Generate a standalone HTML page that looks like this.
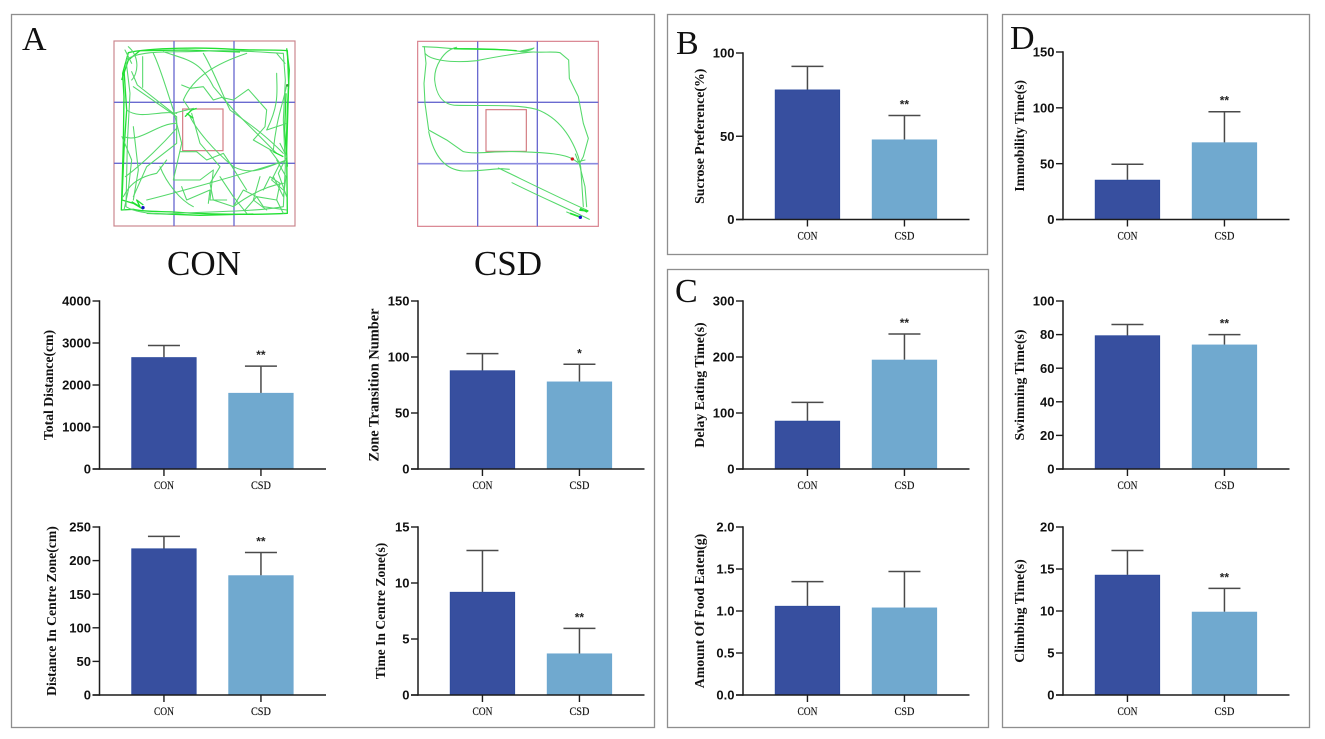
<!DOCTYPE html>
<html lang="en">
<head>
<meta charset="utf-8">
<title>Behavioural test results: CON vs CSD</title>
<style>
  html, body { margin: 0; padding: 0; background: #fff; }
  #figure { position: relative; width: 1325px; height: 739px; overflow: hidden; background: #fff; }
  #figure svg { position: absolute; left: 0; top: 0; filter: blur(0.3px); }
  .panel-box { fill: #fff; stroke: #8e8e8e; stroke-width: 1.3; }
  .panel-letter, .group-title { font-family: "Liberation Serif", serif; fill: #111; }
  .panel-letter { font-size: 34px; }
  .group-title { font-size: 35px; text-anchor: middle; }
  .tick-label { font-family: "Liberation Sans", sans-serif; font-weight: bold; font-size: 13px; fill: #111; text-anchor: end; }
  .cat-label { font-family: "Liberation Serif", serif; font-size: 11.5px; fill: #111; text-anchor: middle; stroke: #111; stroke-width: 0.15; }
  .y-title { font-family: "Liberation Serif", serif; font-weight: bold; fill: #111; text-anchor: middle; }
  .sig-label { font-family: "Liberation Sans", sans-serif; font-weight: bold; font-size: 12px; fill: #222; text-anchor: middle; }
  .track { fill: none; stroke: #55d96b; stroke-width: 3.2; stroke-linejoin: round; stroke-linecap: round; }
  .track-strong { fill: none; stroke: #22e033; stroke-width: 4; stroke-linejoin: round; }
</style>
</head>
<body>
<div id="figure">
<svg id="canvas" width="1325" height="739" viewBox="0 0 1325 739" xmlns="http://www.w3.org/2000/svg">
  <rect class="panel-box" x="11.5" y="14.5" width="643" height="713"/>
  <rect class="panel-box" x="667.5" y="14.5" width="320" height="240"/>
  <rect class="panel-box" x="667.5" y="269.5" width="321" height="458"/>
  <rect class="panel-box" x="1002.5" y="14.5" width="307" height="713"/>

  <text class="panel-letter" x="22" y="50">A</text>
  <text class="panel-letter" x="676" y="54">B</text>
  <text class="panel-letter" x="675" y="302">C</text>
  <text class="panel-letter" x="1010" y="49">D</text>

  <text class="group-title" x="204" y="275">CON</text>
  <text class="group-title" x="508" y="275">CSD</text>

  <!-- CON open-field track, drawn in 3x crop units -->
  <g transform="translate(0,10) scale(0.33333)">
    <g fill="none">
      <rect x="342" y="93" width="543" height="555" stroke="#c9848c" stroke-width="3.5"/>
      <path d="M522 93V648M702 93V648M342 277H885M342 460H885" stroke="#6a6ad0" stroke-width="4"/>
      <rect x="548" y="297" width="121" height="125" stroke="#d27a80" stroke-width="3.5"/>
    </g>
    <g>
      <path class="track-strong" d="M385 128C450 112 620 112 700 118C760 122 820 118 862 122L866 220L860 420L862 610C760 616 600 612 520 606C480 604 430 606 400 598L364 600L370 400L372 260L368 190L385 128Z"/>
      <path class="track-strong" d="M860 115L868 180L862 300L858 440M372 180L380 300L372 420L366 570L400 580L430 598"/>
      <path class="track-strong" d="M365 210L385 150L420 122L560 120L720 126M858 250L854 360L862 470M440 610L600 616L760 612"/>
      <path class="track" d="M378 150C420 118 520 128 600 124C700 118 800 128 850 130L856 210L850 330L856 470L850 590C760 606 620 604 500 612C440 612 400 604 378 590L382 400L390 250L378 150Z"/>
      <path class="track" d="M366 380L395 450L385 540L372 600M400 350L415 480L400 570M830 130L855 160M375 120L395 160"/>
      <path class="track" d="M428 232L428 140M395 185L412 225L520 310L580 295M400 230L530 320L530 400L440 470L400 560"/>
      <path class="track" d="M460 130C480 170 500 240 520 300L545 400L520 510L600 510L640 480L630 570L680 570M490 125C560 150 600 150 640 230L700 300L830 430"/>
      <path class="track" d="M610 130C640 180 670 260 690 300C730 330 780 360 850 430M740 130C650 160 580 200 550 270L570 300"/>
      <path class="track" d="M545 225L570 235L610 230L640 270L665 262L700 270L745 238L800 300L795 350L760 390L830 430"/>
      <path class="track" d="M830 190C830 240 840 280 800 360L860 340M860 225C850 280 830 320 820 420"/>
      <path class="track" d="M380 300C420 330 480 300 530 310M372 380C420 400 470 340 530 340M376 500C430 460 490 400 530 355"/>
      <path class="track" d="M575 310L600 400L660 470L630 520L640 570L700 590L730 540L770 560L830 570L850 610M590 425L620 450L670 430L690 460L740 540"/>
      <path class="track" d="M570 320C590 360 640 420 700 470C760 500 800 470 860 450M440 570C520 550 700 500 850 455"/>
      <path class="track" d="M480 470C500 520 540 570 580 590M545 530L560 570L630 540L625 580M660 500L700 560L740 610M790 540L810 500L840 520L830 570M820 500L850 560L858 500L830 450"/>
      <path class="track" d="M700 590C740 560 790 530 850 520M735 600L770 560L790 590L860 600M540 425L590 425"/>
      <path class="track" d="M385 110C420 140 415 190 395 210M370 560C390 520 420 500 470 490L500 450"/>
      <path class="track" d="M810 420L840 460L815 510L850 540M840 400L860 440L835 490L860 560M780 500L760 570L800 600"/>
      <path class="track-strong" d="M395 575L420 590L410 570L430 585M555 320L575 300L590 295M560 310L580 325M820 425L850 440"/>
    </g>
    <circle cx="429" cy="593" r="5" fill="#1414c8"/>
    <circle cx="862" cy="226" r="4" fill="#3a9a3a"/>
  </g>

  <!-- CSD open-field track, drawn in 3x crop units -->
  <g transform="translate(330,10) scale(0.33333)">
    <g fill="none">
      <rect x="263" y="94" width="542" height="555" stroke="#d8808c" stroke-width="3.5"/>
      <path d="M443 94V649M622 94V649M263 277H805" stroke="#6a6ad0" stroke-width="4"/>
      <path d="M263 461H805" stroke="#8a8ae0" stroke-width="5"/>
      <rect x="468" y="299" width="121" height="125" stroke="#d27a80" stroke-width="3.5"/>
    </g>
    <g>
      <path class="track" d="M278 110L320 112L370 116C440 114 520 118 570 124C590 124 605 120 612 114C590 122 530 126 610 126C640 128 670 124 690 128L716 150L718 205L745 260L760 340L775 385L760 440L748 462L765 530L770 590"/>
      <path class="track" d="M380 112C340 120 312 170 314 210C318 250 335 285 380 286C470 288 560 282 620 298C680 320 720 370 745 440L752 470L760 590"/>
      <path class="track" d="M283 110L288 160L282 220L285 280L296 360L350 390L400 425C440 435 500 420 590 426C640 428 700 430 730 448L750 462"/>
      <path class="track" d="M285 130C300 150 360 160 440 152C500 140 560 130 610 126"/>
      <path class="track" d="M296 365C310 430 340 480 400 483C450 484 490 476 515 476L538 478M505 474C560 500 680 560 770 600"/>
      <path class="track" d="M546 518C620 555 700 590 778 628M710 606L750 622M736 432L745 455L765 450"/>
      <path class="track-strong" d="M748 600L775 603M720 610L748 620M750 596L772 606" style="stroke-width:5"/>
      <path class="track-strong" d="M372 116C430 118 490 116 560 122" style="stroke-width:4"/>
    </g>
    <circle cx="727" cy="447" r="5" fill="#d01a1a"/>
    <circle cx="751" cy="622" r="5" fill="#1414d0"/>
  </g>

  <g id="charts"></g>
</svg>
</div>

<script>
const categories = ['CON', 'CSD'];
const chartIds = ['total-distance', 'zone-transition', 'distance-centre', 'time-centre', 'sucrose', 'delay-eating', 'food-eaten', 'immobility', 'swimming', 'climbing'];
const yTitles = ['Total Distance(cm)', 'Zone Transition Number', 'Distance In Centre Zone(cm)', 'Time In Centre Zone(s)', 'Sucrose Preference(%)', 'Delay Eating Time(s)', 'Amount Of Food Eaten(g)', 'Immobility Time(s)', 'Swimming Time(s)', 'Climbing Time(s)'];
const yTickLabels = [
  ['0', '1000', '2000', '3000', '4000'],
  ['0', '50', '100', '150'],
  ['0', '50', '100', '150', '200', '250'],
  ['0', '5', '10', '15'],
  ['0', '50', '100'],
  ['0', '100', '200', '300'],
  ['0.0', '0.5', '1.0', '1.5', '2.0'],
  ['0', '50', '100', '150'],
  ['0', '20', '40', '60', '80', '100'],
  ['0', '5', '10', '15', '20']
];
const conMeans = [2660, 88, 218, 9.2, 78, 86, 1.06, 35.5, 79.5, 14.3];
const csdMeans = [1810, 78, 178, 3.7, 48, 195, 1.04, 69, 74, 9.9];
const conErrors = [280, 15, 18, 3.7, 14, 33, 0.29, 14, 6.5, 2.9];
const csdErrors = [640, 15.5, 34, 2.25, 14.5, 46, 0.43, 27.5, 6, 2.8];
const significance = ['**', '*', '**', '**', '**', '**', '', '**', '**', '**'];

/* Plot frames only (no data): left axis x, top-tick y, baseline y, y-title x, y-title font size */
const frames = [
  { x: 99.5,  top: 301, base: 469, titleX: 50, titleSize: 13.7 },
  { x: 418,   top: 301, base: 469, titleX: 375, titleSize: 14.4 },
  { x: 99.5,  top: 527, base: 695, titleX: 53, titleSize: 13.7 },
  { x: 418,   top: 527, base: 695, titleX: 382, titleSize: 13.6 },
  { x: 743,   top: 53,  base: 219.5, titleX: 701, titleSize: 13.8 },
  { x: 743,   top: 301, base: 469, titleX: 701, titleSize: 13.9 },
  { x: 743,   top: 527, base: 695, titleX: 701, titleSize: 13.8 },
  { x: 1063,  top: 52,  base: 219.5, titleX: 1021, titleSize: 13.5 },
  { x: 1063,  top: 301, base: 469, titleX: 1021, titleSize: 13.8 },
  { x: 1063,  top: 527, base: 695, titleX: 1021, titleSize: 13.8 }
];
const barColors = ['#374f9f', '#70a9cf'];
const barEdges = ['#2c4a9c', '#6ea8d0'];

const SVG_NS = 'http://www.w3.org/2000/svg';
const root = document.getElementById('charts');

function make(tag, attrs, parent, text) {
  const node = document.createElementNS(SVG_NS, tag);
  for (const key in attrs) node.setAttribute(key, attrs[key]);
  if (text !== undefined) node.textContent = text;
  parent.appendChild(node);
  return node;
}
function yScale(value, frame, maxValue) {
  return frame.base - (value / maxValue) * (frame.base - frame.top);
}
function barLeft(index, frame) {
  return frame.x + 32.2 + index * 97;
}

chartIds.forEach(function (id, c) {
  const frame = frames[c];
  const ticks = yTickLabels[c];
  const maxValue = parseFloat(ticks[ticks.length - 1]);
  const barWidth = 64.5;
  const means = [conMeans[c], csdMeans[c]];
  const errors = [conErrors[c], csdErrors[c]];

  const chart = make('g', {}, root);
  
  

  categories.forEach(function (cat, i) {
    const left = barLeft(i, frame);
    const mid = left + barWidth / 2;
    const yMean = yScale(means[i], frame, maxValue);
    const yErr = yScale(means[i] + errors[i], frame, maxValue);

    const stem = make('line', { x1: mid, x2: mid, y1: yMean, y2: yErr, stroke: '#4a4a4a', 'stroke-width': 1.5 }, chart);
    
    

    const cap = make('line', { x1: mid - 16, x2: mid + 16, y1: yErr, y2: yErr, stroke: '#4a4a4a', 'stroke-width': 1.5 }, chart);
    
    

    const bar = make('rect', { x: left, y: yMean + 0.3, width: barWidth, height: frame.base - yMean - 0.3, fill: barColors[i], stroke: barEdges[i], 'stroke-width': 0.8 }, chart);
    
    

    const xTick = make('line', { x1: mid, x2: mid, y1: frame.base, y2: frame.base + 7, stroke: '#1c1c1c', 'stroke-width': 1.4 }, chart);
    
    

    const catLabel = make('text', { class: 'cat-label', x: mid, y: frame.base + 20, textLength: 20, lengthAdjust: 'spacingAndGlyphs' }, chart, cat);
    
    

    if (i === 1 && significance[c]) {
      const sig = make('text', { class: 'sig-label', x: mid, y: yErr - 7 }, chart, significance[c]);
      
      
    }
  });

  const yAxis = make('line', { x1: frame.x, x2: frame.x, y1: frame.top - 0.7, y2: frame.base + 0.7, stroke: '#1c1c1c', 'stroke-width': 1.5 }, chart);
  
  

  const xAxis = make('line', { x1: frame.x - 7, x2: frame.x + 226.5, y1: frame.base, y2: frame.base, stroke: '#1c1c1c', 'stroke-width': 1.5 }, chart);
  
  

  ticks.forEach(function (label) {
    const y = yScale(parseFloat(label), frame, maxValue);
    const yTick = make('line', { x1: frame.x - 7, x2: frame.x, y1: y, y2: y, stroke: '#1c1c1c', 'stroke-width': 1.4 }, chart);
    
    

    const tickText = make('text', { class: 'tick-label', x: frame.x - 8.5, y: y + 4.6 }, chart, label);
    
    
  });

  const midY = (frame.top + frame.base) / 2;
  const title = make('text', { class: 'y-title', x: frame.titleX, y: midY, 'font-size': frame.titleSize, transform: 'rotate(-90 ' + frame.titleX + ' ' + midY + ')', 'dominant-baseline': 'middle' }, chart, yTitles[c]);
  
  
});
</script>
</body>
</html>
